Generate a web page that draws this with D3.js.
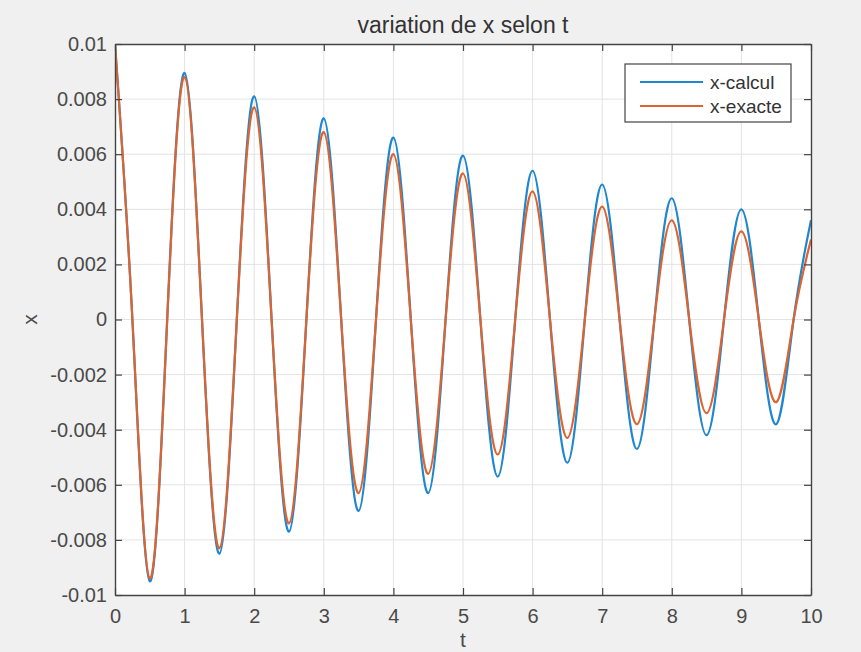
<!DOCTYPE html>
<html>
<head>
<meta charset="utf-8">
<script src="https://cdn.jsdelivr.net/npm/d3@7"></script>
<style>
  html, body { margin: 0; padding: 0; background: #f0f0f0; }
  svg { display: block; }
  text { font-family: "Liberation Sans", Arial, Helvetica, sans-serif; }
</style>
</head>
<body>
<svg id="chart" width="861" height="652"></svg>
<script>
// ---- data ----
const tValues = [
  0, 0.25, 0.5, 0.75, 1, 1.25, 1.5, 1.75, 2, 2.25, 2.5, 2.75, 3, 3.25, 3.5, 3.75,
  4, 4.25, 4.5, 4.75, 5, 5.25, 5.5, 5.75, 6, 6.25, 6.5, 6.75, 7, 7.25, 7.5, 7.75,
  8, 8.25, 8.5, 8.75, 9, 9.25, 9.5, 9.75, 10
];
const xCalcul = [
  0.0100, 0, -0.0095, 0, 0.00895, 0, -0.0085, 0, 0.0081, 0, -0.0077, 0,
  0.0073, 0, -0.00695, 0, 0.0066, 0, -0.0063, 0, 0.00595, 0, -0.0057, 0,
  0.0054, 0, -0.0052, 0, 0.0049, 0, -0.0047, 0, 0.0044, 0, -0.0042, 0,
  0.0040, 0, -0.0038, 0, 0.0036
];
const xExacte = [
  0.0100, 0, -0.0094, 0, 0.0088, 0, -0.0083, 0, 0.0077, 0, -0.0074, 0,
  0.0068, 0, -0.0063, 0, 0.0060, 0, -0.0056, 0, 0.0053, 0, -0.0049, 0,
  0.00465, 0, -0.0043, 0, 0.0041, 0, -0.0038, 0, 0.0036, 0, -0.0034, 0,
  0.0032, 0, -0.0030, 0, 0.0029
];
const seriesNames = ["x-calcul", "x-exacte"];
const xTicks = [0, 1, 2, 3, 4, 5, 6, 7, 8, 9, 10];
const yTicks = [-0.01, -0.008, -0.006, -0.004, -0.002, 0, 0.002, 0.004, 0.006, 0.008, 0.01];
const yTickLabels = ["-0.01", "-0.008", "-0.006", "-0.004", "-0.002", "0", "0.002", "0.004", "0.006", "0.008", "0.01"];
const titleText = "variation de x selon t";
const xLabel = "t";
const yLabel = "x";

// ---- layout ----
const L = 115, R = 811, T = 44, B = 595;
const colors = ["#1f86d0", "#dc6430"];
const axisColor = "#444444";

const svg = d3.select("#chart");
svg.append("rect").attr("width", 861).attr("height", 652).attr("fill", "#f0f0f0");

const x = d3.scaleLinear().domain([0, 10]).range([L, R]);
const y = d3.scaleLinear().domain([-0.01, 0.01]).range([B, T]);

// plot background
svg.append("rect").attr("x", L).attr("y", T).attr("width", R - L).attr("height", B - T).attr("fill", "#ffffff");

// grid
const grid = svg.append("g").attr("stroke", "#e3e3e3").attr("stroke-width", 1);
grid.selectAll("line.gx").data(xTicks.slice(1, -1)).join("line")
  .attr("x1", d => x(d)).attr("x2", d => x(d)).attr("y1", T).attr("y2", B);
grid.selectAll("line.gy").data(yTicks.slice(1, -1)).join("line")
  .attr("y1", d => y(d)).attr("y2", d => y(d)).attr("x1", L).attr("x2", R);

// lines
const pts = (vals) => tValues.map((t, i) => [t, vals[i]]);
const line = d3.line().x(d => x(d[0])).y(d => y(d[1])).curve(d3.curveNatural);
const clip = svg.append("clipPath").attr("id", "clip").append("rect")
  .attr("x", L).attr("y", T - 2).attr("width", R - L).attr("height", B - T + 4);
const lg = svg.append("g").attr("clip-path", "url(#clip)");
[xCalcul, xExacte].forEach((vals, i) => {
  lg.append("path").attr("d", line(pts(vals))).attr("fill", "none")
    .attr("stroke", colors[i]).attr("stroke-width", 2.2).attr("stroke-linejoin", "round");
});

// axes (box with ticks inside on all sides)
const tickLen = 7;
const axB = d3.axisBottom(x).tickValues(xTicks).tickSizeInner(-tickLen).tickSizeOuter(0).tickPadding(14).tickFormat(d3.format("d"));
const axT = d3.axisTop(x).tickValues(xTicks).tickSizeInner(-tickLen).tickSizeOuter(0).tickFormat("");
const axLft = d3.axisLeft(y).tickValues(yTicks).tickSizeInner(-tickLen).tickSizeOuter(0).tickPadding(8)
  .tickFormat((d, i) => yTickLabels[i]);
const axRgt = d3.axisRight(y).tickValues(yTicks).tickSizeInner(-tickLen).tickSizeOuter(0).tickFormat("");

function styleAxis(g) {
  g.selectAll("path.domain").attr("stroke", axisColor).attr("stroke-width", 1.4);
  g.selectAll(".tick line").attr("stroke", axisColor).attr("stroke-width", 1.2);
  g.selectAll(".tick text").attr("fill", "#4a4a4a").attr("font-size", 20)
    .attr("font-family", '"Liberation Sans", Arial, sans-serif');
}
svg.append("g").attr("transform", `translate(0,${B})`).call(axB).call(styleAxis);
svg.append("g").attr("transform", `translate(0,${T})`).call(axT).call(styleAxis);
svg.append("g").attr("transform", `translate(${L},0)`).call(axLft).call(styleAxis);
svg.append("g").attr("transform", `translate(${R},0)`).call(axRgt).call(styleAxis);

// title and axis labels
svg.append("text").attr("x", (L + R) / 2).attr("y", 33).attr("text-anchor", "middle")
  .attr("font-size", 23).attr("fill", "#333333").text(titleText);
svg.append("text").attr("x", (L + R) / 2).attr("y", 647).attr("text-anchor", "middle")
  .attr("font-size", 21).attr("fill", "#4a4a4a").text(xLabel);
svg.append("text").attr("transform", `translate(37,${(T + B) / 2}) rotate(-90)`).attr("text-anchor", "middle")
  .attr("font-size", 21).attr("fill", "#4a4a4a").text(yLabel);

// legend
const lgX = 625, lgY = 64, lgW = 166, lgH = 58;
const leg = svg.append("g");
leg.append("rect").attr("x", lgX).attr("y", lgY).attr("width", lgW).attr("height", lgH)
  .attr("fill", "#ffffff").attr("stroke", "#444444").attr("stroke-width", 1.2);
seriesNames.forEach((name, i) => {
  const yy = lgY + 18 + i * 24;
  leg.append("line").attr("x1", lgX + 15).attr("x2", lgX + 78).attr("y1", yy).attr("y2", yy)
    .attr("stroke", colors[i]).attr("stroke-width", 2);
  leg.append("text").attr("x", lgX + 85).attr("y", yy).attr("dy", "0.35em")
    .attr("font-size", 19).attr("fill", "#333333").text(name);
});
</script>
</body>
</html>
